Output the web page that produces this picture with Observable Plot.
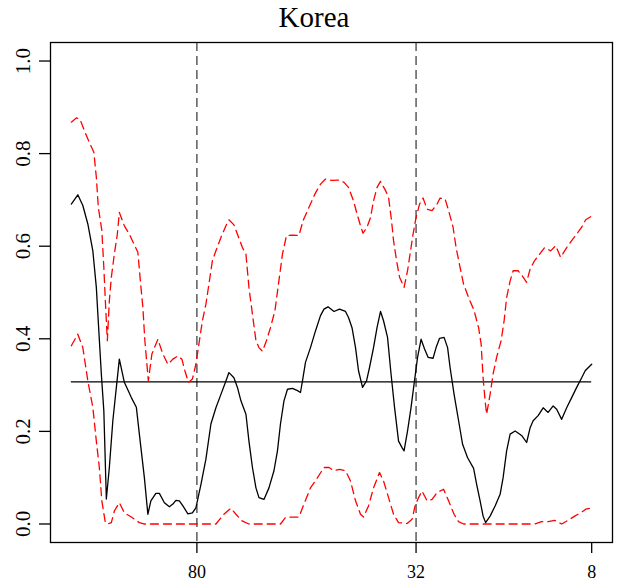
<!DOCTYPE html>
<html><head><meta charset="utf-8">
<script src="https://cdn.jsdelivr.net/npm/d3@7"></script>
<script src="https://cdn.jsdelivr.net/npm/@observablehq/plot@0.6"></script>
<style>
body{margin:0;background:#fff;}
#wrap{position:relative;width:617px;height:584px;}
#title{position:absolute;left:0;top:3px;width:628px;text-align:center;font:29px/29px "Liberation Serif","Times New Roman",serif;color:#000;}
#chart{position:absolute;left:0;top:0;}
</style></head><body>
<div id="wrap"><div id="chart"></div><div id="title">Korea</div></div>
<script>
// Estimate (black solid line)
const estX = [0,1.3,2.3,3.3,4.3,5.0,5.3,6.0,6.5,7.0,7.6,8.3,9.0,9.6,10.6,12.0,13.0,13.6,14.6,15.3,15.9,16.9,17.6,18.6,19.6,20.3,20.9,21.6,22.3,23.3,24.2,24.9,25.9,26.9,27.9,28.9,29.9,30.9,31.5,32.5,33.2,33.9,34.9,35.5,36.2,36.9,37.5,38.5,39.5,40.5,41.2,41.8,42.5,43.2,44.2,45.2,45.8,46.2,46.8,47.8,48.8,49.8,50.5,51.3,52.5,53.6,54.8,55.4,56.1,56.8,57.4,58.2,59.0,59.6,60.4,61.1,61.8,62.4,63.2,63.9,64.6,65.4,66.1,66.5,67.2,67.9,68.5,69.2,69.9,70.6,71.3,72.3,72.9,73.6,74.5,75.2,75.7,76.5,77.4,78.2,79.2,80.4,81.0,81.7,82.3,82.8,83.7,84.7,85.7,86.3,87.0,87.7,88.7,89.5,90.1,91.0,91.7,92.3,93.3,94.3,95.3,96.3,97.0,98.0,99.0,100.0,101.0,102.0,102.7,104.0];
const estY = [0.691,0.711,0.688,0.648,0.590,0.511,0.454,0.324,0.244,0.054,0.122,0.223,0.295,0.356,0.306,0.273,0.252,0.194,0.100,0.021,0.050,0.066,0.066,0.046,0.037,0.043,0.051,0.050,0.039,0.022,0.024,0.035,0.085,0.140,0.216,0.251,0.280,0.309,0.327,0.316,0.295,0.266,0.237,0.179,0.122,0.078,0.057,0.053,0.078,0.115,0.158,0.216,0.266,0.291,0.293,0.288,0.284,0.309,0.349,0.381,0.417,0.450,0.464,0.469,0.459,0.464,0.459,0.446,0.424,0.381,0.331,0.295,0.309,0.338,0.381,0.424,0.459,0.439,0.403,0.324,0.252,0.179,0.165,0.158,0.201,0.252,0.302,0.360,0.399,0.378,0.360,0.358,0.381,0.401,0.403,0.381,0.338,0.280,0.223,0.172,0.143,0.120,0.086,0.050,0.017,0.003,0.017,0.039,0.064,0.100,0.158,0.194,0.201,0.195,0.190,0.176,0.208,0.223,0.234,0.251,0.241,0.255,0.248,0.226,0.251,0.273,0.295,0.316,0.331,0.345];

// Upper band (red dashed)
const upX = [0,1.0,1.7,2.6,3.6,4.5,5.0,5.4,6.1,6.5,6.8,7.2,7.6,8.0,8.6,9.2,9.6,10.6,11.6,12.5,13.3,13.8,14.3,14.7,15.4,16.1,17.3,18.3,19.3,20.3,21.3,22.1,22.7,23.4,24.2,24.9,25.6,26.2,26.9,27.6,28.2,28.9,29.9,30.9,31.5,32.5,33.2,34.2,34.9,35.5,36.2,36.9,37.5,38.2,39.0,39.8,40.7,41.4,42.2,43.0,44.2,45.5,46.3,47.5,48.7,49.8,50.8,52.1,53.5,54.5,55.4,56.4,57.1,57.8,58.3,59.1,59.8,60.4,61.1,61.8,62.8,63.4,64.0,64.4,65.0,65.6,66.5,67.2,67.7,68.3,68.9,69.6,70.3,71.1,72.1,73.1,73.7,74.7,75.4,76.3,76.9,77.7,78.4,79.4,80.5,81.4,81.9,82.3,82.7,83.0,83.7,84.3,85.0,85.9,86.5,87.0,87.7,88.3,89.3,90.1,91.0,91.7,92.6,93.6,94.6,95.8,96.8,97.8,99.0,100.0,101.0,102.0,102.8,104.0];
const upY = [0.868,0.877,0.875,0.850,0.824,0.803,0.749,0.684,0.634,0.554,0.482,0.396,0.482,0.533,0.583,0.626,0.673,0.644,0.626,0.605,0.587,0.525,0.468,0.396,0.309,0.367,0.399,0.367,0.345,0.356,0.363,0.356,0.331,0.306,0.313,0.345,0.396,0.439,0.475,0.525,0.569,0.590,0.619,0.644,0.657,0.646,0.626,0.597,0.583,0.511,0.453,0.396,0.381,0.373,0.396,0.424,0.461,0.518,0.583,0.623,0.624,0.623,0.655,0.684,0.713,0.734,0.745,0.742,0.743,0.738,0.727,0.698,0.670,0.644,0.628,0.641,0.662,0.698,0.727,0.740,0.720,0.706,0.655,0.612,0.569,0.533,0.511,0.547,0.583,0.626,0.662,0.691,0.704,0.680,0.677,0.691,0.704,0.702,0.677,0.641,0.597,0.554,0.518,0.489,0.461,0.424,0.389,0.316,0.266,0.237,0.280,0.324,0.360,0.396,0.439,0.489,0.525,0.547,0.547,0.536,0.522,0.551,0.569,0.583,0.597,0.590,0.601,0.576,0.597,0.612,0.626,0.641,0.657,0.665];

// Lower band (red dashed)
const loX = [0,1.3,2.3,3.3,4.3,5.0,5.6,6.1,6.8,7.3,8.0,8.6,9.6,10.6,12.0,13.6,14.5,28.9,30.5,31.9,32.9,34.2,35.5,41.8,42.8,44.2,45.5,46.5,47.8,49.2,50.5,51.5,52.5,53.6,54.8,55.8,56.8,57.8,58.4,59.4,60.4,61.6,62.4,63.4,64.4,65.4,67.1,68.1,68.7,69.4,70.1,71.1,72.1,73.1,74.4,75.4,76.5,77.4,78.4,92.6,94.0,95.3,96.6,98.0,99.3,100.6,101.8,102.8,104.0];
const loY = [0.385,0.410,0.381,0.309,0.252,0.179,0.122,0.050,0.003,0,0.003,0.028,0.046,0.024,0.015,0.003,0,0,0.021,0.034,0.021,0.006,0,0,0.014,0.015,0.015,0.043,0.078,0.100,0.122,0.122,0.115,0.118,0.115,0.093,0.050,0.021,0.015,0.039,0.078,0.111,0.093,0.057,0.021,0.003,0.001,0.010,0.039,0.057,0.071,0.050,0.053,0.068,0.075,0.050,0.021,0.005,0,0,0.005,0.005,0.008,0,0.008,0.017,0.024,0.032,0.035];

const meanLevel = 0.307;
const markerPos = [25.1, 68.9];
const xTickPos = [25.1, 68.9, 104];
const xTickLabels = ["80", "32", "8"];
const yTicks = [0, 0.2, 0.4, 0.6, 0.8, 1.0];
const yTickLabels = ["0.0", "0.2", "0.4", "0.6", "0.8", "1.0"];

const toRows = (xs, ys) => xs.map((x, i) => ({x, y: ys[i]}));
const est = toRows(estX, estY);
const upper = toRows(upX, upY);
const lower = toRows(loX, loY);

const chart = Plot.plot({
  width: 617, height: 584,
  marginLeft: 50, marginRight: 5, marginTop: 42, marginBottom: 42,
  style: {background: "white", fontFamily: "'Liberation Serif', 'Times New Roman', serif", color: "black"},
  x: {domain: [-4.16, 108.16]},
  y: {domain: [-0.04, 1.04]},
  marks: [
    Plot.ruleX(markerPos, {stroke: "#333", strokeWidth: 1.2, strokeDasharray: "9,5"}),
    Plot.ruleY([meanLevel], {x1: estX[0], x2: estX[estX.length - 1], stroke: "black", strokeWidth: 1.3}),
    Plot.line(upper, {x: "x", y: "y", stroke: "#ff0000", strokeWidth: 1.3, strokeDasharray: "8,5"}),
    Plot.line(lower, {x: "x", y: "y", stroke: "#ff0000", strokeWidth: 1.3, strokeDasharray: "8,5"}),
    Plot.line(est, {x: "x", y: "y", stroke: "black", strokeWidth: 1.3}),
    Plot.frame({stroke: "black", strokeWidth: 1.3}),
    Plot.axisY(yTicks, {tickSize: 11, tickRotate: -90, tickPadding: 10, fontSize: 21, label: null,
      tickFormat: d => yTickLabels[yTicks.indexOf(d)], strokeWidth: 1.3}),
    Plot.axisX(xTickPos, {tickSize: 11, tickPadding: 12, fontSize: 18, label: null,
      tickFormat: d => xTickLabels[xTickPos.indexOf(d)], strokeWidth: 1.3})
  ]
});
document.getElementById("chart").appendChild(chart);
</script>
</body></html>
